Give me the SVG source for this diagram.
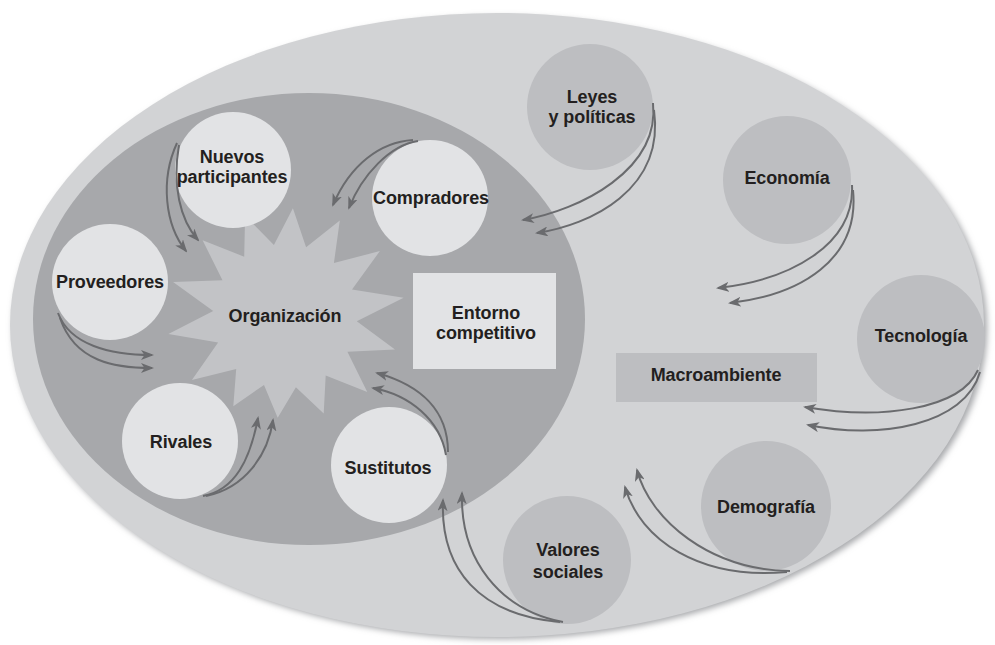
<svg xmlns="http://www.w3.org/2000/svg" width="995" height="645" viewBox="0 0 995 645">
  <defs>
    <style>
      .lbl { font-family: "Liberation Sans", Arial, sans-serif; font-weight: bold; font-size: 18px; fill: #231f20; text-anchor: middle; letter-spacing: -0.1px; }
      .force { fill: #e2e3e5; }
      .macro { fill: #bdbec1; }
      .arr { fill: none; stroke: #6a6b6e; stroke-width: 2; marker-end: url(#head); }
    </style>
    <marker id="head" viewBox="0 0 13 10" refX="11" refY="5" markerWidth="13" markerHeight="10" markerUnits="userSpaceOnUse" orient="auto">
      <path d="M0,0 L13,5 L0,10 L3.5,5 Z" fill="#6a6b6e"/>
    </marker>
    <filter id="soft" x="-10%" y="-10%" width="120%" height="120%">
      <feGaussianBlur stdDeviation="3"/>
    </filter>
  </defs>

  <rect width="995" height="645" fill="#ffffff"/>

  <!-- outer field: macro environment -->
  <g id="macroambiente-campo">
    <ellipse cx="500" cy="328" rx="487" ry="311" fill="#a6a7aa" filter="url(#soft)"/>
    <ellipse cx="497" cy="325" rx="487" ry="312" fill="#d2d3d5"/>
  </g>

  <!-- inner field: competitive environment -->
  <g id="entorno-campo">
    <ellipse cx="309" cy="319" rx="276" ry="226" fill="#a7a8ab"/>
  </g>

  <!-- central star -->
  <g id="organizacion">
    <polygon fill="#c2c3c6" points="292.9,208.3 306.1,247.2 339.8,220.6 333.9,263.1 379.9,251.0 352.0,289.6 403.6,297.8 356.8,321.2 395.0,349.6 347.4,351.8 367.3,392.0 325.7,375.4 323.7,413.6 295.9,387.2 277.7,417.7 264.0,384.9 233.3,406.3 236.2,369.0 191.9,380.0 218.1,342.6 168.4,334.1 213.2,310.9 173.1,282.0 222.5,280.3 202.6,240.2 244.2,256.7 245.1,215.7 273.9,244.9"/>
    <text class="lbl" x="285" y="322">Organización</text>
  </g>

  <!-- competitive forces -->
  <g id="nuevos-participantes">
    <circle class="force" cx="233" cy="170" r="58"/>
    <text class="lbl" x="232" y="163">Nuevos</text>
    <text class="lbl" x="232" y="183">participantes</text>
  </g>
  <g id="proveedores">
    <circle class="force" cx="110" cy="282" r="58"/>
    <text class="lbl" x="110" y="288">Proveedores</text>
  </g>
  <g id="compradores">
    <circle class="force" cx="430" cy="198" r="58"/>
    <text class="lbl" x="431" y="204">Compradores</text>
  </g>
  <g id="rivales">
    <circle class="force" cx="180" cy="441" r="58"/>
    <text class="lbl" x="181" y="448">Rivales</text>
  </g>
  <g id="sustitutos">
    <circle class="force" cx="389" cy="465" r="58"/>
    <text class="lbl" x="388" y="474">Sustitutos</text>
  </g>
  <g id="entorno-competitivo">
    <rect class="force" x="413" y="273" width="143" height="96"/>
    <text class="lbl" x="486" y="319">Entorno</text>
    <text class="lbl" x="486" y="339">competitivo</text>
  </g>

  <!-- macro environment forces -->
  <g id="leyes-politicas">
    <circle class="macro" cx="590" cy="107" r="63"/>
    <text class="lbl" x="592" y="103">Leyes</text>
    <text class="lbl" x="592" y="123">y políticas</text>
  </g>
  <g id="economia">
    <circle class="macro" cx="787" cy="180" r="64"/>
    <text class="lbl" x="787" y="184">Economía</text>
  </g>
  <g id="tecnologia">
    <circle class="macro" cx="921" cy="339" r="64"/>
    <text class="lbl" x="921" y="342">Tecnología</text>
  </g>
  <g id="demografia">
    <circle class="macro" cx="766" cy="506" r="65"/>
    <text class="lbl" x="766" y="513">Demografía</text>
  </g>
  <g id="valores-sociales">
    <circle class="macro" cx="567" cy="560" r="64"/>
    <text class="lbl" x="568" y="556">Valores</text>
    <text class="lbl" x="568" y="578">sociales</text>
  </g>
  <g id="macroambiente">
    <rect class="macro" x="616" y="353" width="201" height="49"/>
    <text class="lbl" x="716" y="381">Macroambiente</text>
  </g>

  <!-- paired influence arrows -->
  <g id="conectores">
    <path class="arr" d="M177,143 C160,180 165,225 186,251"/>
    <path class="arr" d="M179,145 C172,185 180,220 198,240"/>

    <path class="arr" d="M413,140 C380,142 350,165 333,205"/>
    <path class="arr" d="M418,141 C390,145 362,175 349,208"/>

    <path class="arr" d="M58,313 C70,345 110,355 152,355"/>
    <path class="arr" d="M60,318 C75,362 115,368 152,368"/>

    <path class="arr" d="M203,496 C235,490 250,460 258,418"/>
    <path class="arr" d="M206,496 C245,488 268,455 273,420"/>

    <path class="arr" d="M448,452 C448,410 420,385 377,373"/>
    <path class="arr" d="M446,455 C440,420 410,395 373,388"/>

    <path class="arr" d="M560,622 C480,615 440,570 443,500"/>
    <path class="arr" d="M563,622 C500,610 460,560 462,493"/>

    <path class="arr" d="M787,572 C700,580 640,540 625,487"/>
    <path class="arr" d="M790,571 C710,570 650,520 637,470"/>

    <path class="arr" d="M978,370 C960,410 880,420 805,407"/>
    <path class="arr" d="M980,372 C965,425 880,440 808,425"/>

    <path class="arr" d="M852,185 C855,245 790,280 718,288"/>
    <path class="arr" d="M853,190 C860,260 800,295 730,303"/>

    <path class="arr" d="M653,103 C660,170 580,210 523,220"/>
    <path class="arr" d="M654,110 C665,190 590,225 537,233"/>
  </g>
</svg>
